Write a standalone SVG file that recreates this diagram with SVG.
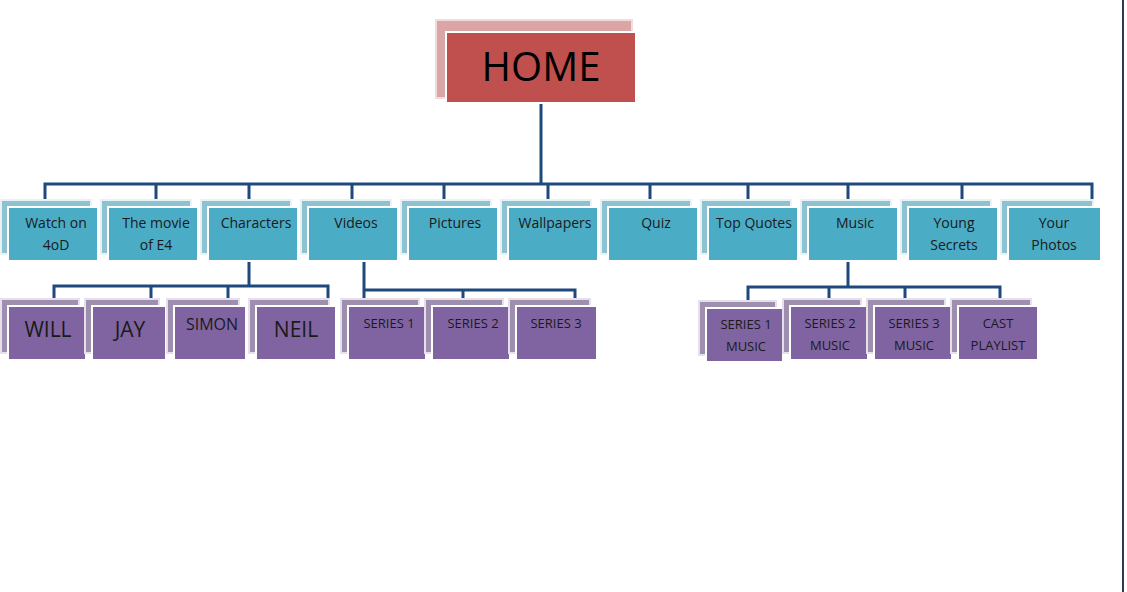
<svg xmlns="http://www.w3.org/2000/svg" width="1127" height="592" viewBox="0 0 1127 592">
<style>
text{font-family:"Open Sans","Liberation Sans",sans-serif;text-anchor:middle;fill:#1a1a1a}
.t{font-size:14px}.b{font-size:21px}.s{font-size:13px}
.tf{fill:#4bacc6;stroke:#fff;stroke-width:2}
.ts{fill:#8dc2d1;stroke:#e8f2f5;stroke-width:2}
.pf{fill:#8064a2;stroke:#fff;stroke-width:2}
.ps{fill:#9f8fae;stroke:#e6e0ec;stroke-width:2}
.c{fill:none;stroke:#1f497d;stroke-width:3}
</style>
<rect width="1127" height="592" fill="#fff"/>
<line x1="1123" y1="0" x2="1123" y2="592" stroke="#2b3a55" stroke-width="2"/>
<g id="connectors" class="c">
<path d="M541 104V184M45 205V184H1092V207M156 184V205M249 184V205M352 184V205M444 184V205M548 184V205M650 184V205M748 184V205M848 184V205M962 184V205"/>
<path d="M249 262V286M54 303V286H328V303M151 286V303M228 286V303"/>
<path d="M364 262V303M364 290H575V303M463 290V303"/>
<path d="M848 262V287M748 303V287H1000V303M829 287V303M905 287V303"/>
</g>
<g id="home"><rect x="436" y="20" width="196" height="78" fill="#d9a5a5" stroke="#f2dcdb" stroke-width="2"/><rect x="446" y="32" width="190" height="71" fill="#c0504d" stroke="#fff" stroke-width="2"/><text x="541" y="81" style="font-size:40px;fill:#000">HOME</text></g>
<g id="n1"><rect class="ts" x="1" y="200" width="90" height="54"/><rect class="tf" x="8" y="207" width="90" height="54"/><text class="t" x="56" y="228">Watch on</text><text class="t" x="56" y="250">4oD</text></g>
<g id="n2"><rect class="ts" x="101" y="200" width="90" height="54"/><rect class="tf" x="108" y="207" width="90" height="54"/><text class="t" x="156" y="228">The movie</text><text class="t" x="156" y="250">of E4</text></g>
<g id="n3"><rect class="ts" x="201" y="200" width="90" height="54"/><rect class="tf" x="208" y="207" width="90" height="54"/><text class="t" x="256" y="228">Characters</text></g>
<g id="n4"><rect class="ts" x="301" y="200" width="90" height="54"/><rect class="tf" x="308" y="207" width="90" height="54"/><text class="t" x="356" y="228">Videos</text></g>
<g id="n5"><rect class="ts" x="401" y="200" width="90" height="54"/><rect class="tf" x="408" y="207" width="90" height="54"/><text class="t" x="455" y="228">Pictures</text></g>
<g id="n6"><rect class="ts" x="501" y="200" width="90" height="54"/><rect class="tf" x="508" y="207" width="90" height="54"/><text class="t" x="555" y="228">Wallpapers</text></g>
<g id="n7"><rect class="ts" x="601" y="200" width="90" height="54"/><rect class="tf" x="608" y="207" width="90" height="54"/><text class="t" x="656" y="228">Quiz</text></g>
<g id="n8"><rect class="ts" x="701" y="200" width="90" height="54"/><rect class="tf" x="708" y="207" width="90" height="54"/><text class="t" x="754" y="228">Top Quotes</text></g>
<g id="n9"><rect class="ts" x="801" y="200" width="90" height="54"/><rect class="tf" x="808" y="207" width="90" height="54"/><text class="t" x="855" y="228">Music</text></g>
<g id="n10"><rect class="ts" x="901" y="200" width="90" height="54"/><rect class="tf" x="908" y="207" width="90" height="54"/><text class="t" x="954" y="228">Young</text><text class="t" x="954" y="250">Secrets</text></g>
<g id="n11"><rect class="ts" x="1001" y="200" width="92" height="54"/><rect class="tf" x="1008" y="207" width="93" height="54"/><text class="t" x="1054" y="228">Your</text><text class="t" x="1054" y="250">Photos</text></g>
<g id="c1"><rect class="ps" x="1" y="299" width="78" height="54"/><rect class="pf" x="8" y="306" width="78" height="54"/><text class="b" x="48" y="337">WILL</text></g>
<g id="c2"><rect class="ps" x="85" y="299" width="74" height="54"/><rect class="pf" x="92" y="306" width="74" height="54"/><text class="b" x="130" y="337">JAY</text></g>
<g id="c3"><rect class="ps" x="167" y="299" width="72" height="54"/><rect class="pf" x="174" y="306" width="72" height="54"/><text class="t" x="212" y="330" style="font-size:16px">SIMON</text></g>
<g id="c4"><rect class="ps" x="249" y="299" width="80" height="54"/><rect class="pf" x="256" y="306" width="80" height="54"/><text class="b" x="296" y="337">NEIL</text></g>
<g id="v1"><rect class="ps" x="341" y="299" width="78" height="54"/><rect class="pf" x="348" y="306" width="78" height="54"/><text class="s" x="389" y="328">SERIES 1</text></g>
<g id="v2"><rect class="ps" x="425" y="299" width="78" height="54"/><rect class="pf" x="432" y="306" width="78" height="54"/><text class="s" x="473" y="328">SERIES 2</text></g>
<g id="v3"><rect class="ps" x="509" y="299" width="81" height="54"/><rect class="pf" x="516" y="306" width="81" height="54"/><text class="s" x="556" y="328">SERIES 3</text></g>
<g id="m1"><rect class="ps" x="699" y="301" width="77" height="54"/><rect class="pf" x="706" y="308" width="77" height="54"/><text class="s" x="746" y="329">SERIES 1</text><text class="s" x="746" y="351">MUSIC</text></g>
<g id="m2"><rect class="ps" x="783" y="299" width="78" height="54"/><rect class="pf" x="790" y="306" width="78" height="54"/><text class="s" x="830" y="328">SERIES 2</text><text class="s" x="830" y="350">MUSIC</text></g>
<g id="m3"><rect class="ps" x="867" y="299" width="78" height="54"/><rect class="pf" x="874" y="306" width="78" height="54"/><text class="s" x="914" y="328">SERIES 3</text><text class="s" x="914" y="350">MUSIC</text></g>
<g id="m4"><rect class="ps" x="951" y="299" width="80" height="54"/><rect class="pf" x="958" y="306" width="80" height="54"/><text class="s" x="998" y="328">CAST</text><text class="s" x="998" y="350">PLAYLIST</text></g>
</svg>
